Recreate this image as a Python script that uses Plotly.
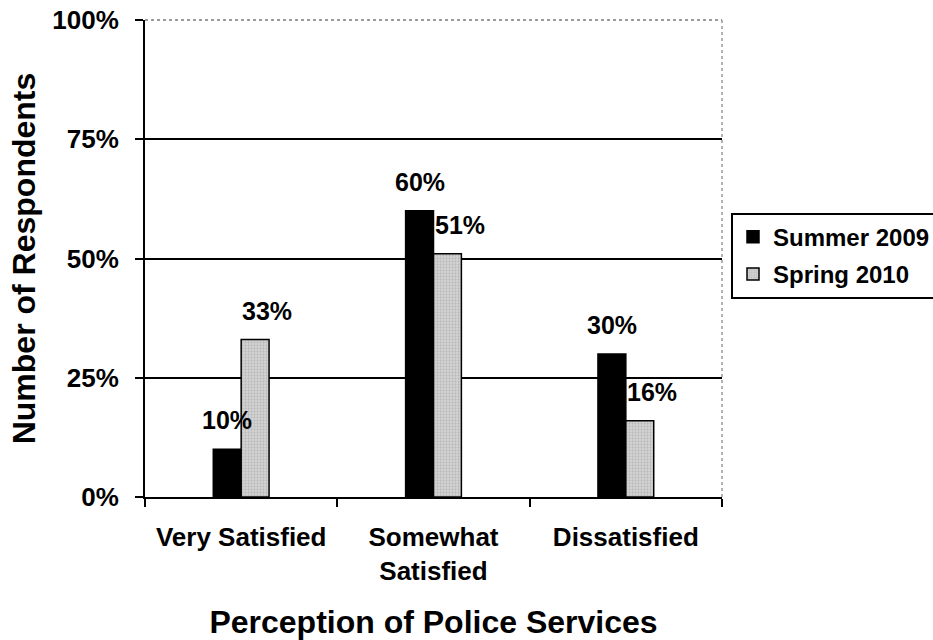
import plotly.graph_objects as go

categories = ["Very Satisfied", "Somewhat<br>Satisfied", "Dissatisfied"]
summer_2009 = [0.10, 0.60, 0.30]
spring_2010 = [0.33, 0.51, 0.16]
y_ticks = [0, 0.25, 0.5, 0.75, 1.0]
y_tick_labels = ["0%", "25%", "50%", "75%", "100%"]

FONT = "Liberation Sans, Arial, sans-serif"

fig = go.Figure()
fig.add_trace(go.Bar(
    name="Summer 2009", x=categories, y=summer_2009, legendgroup="a",
    marker=dict(color="#000000", line=dict(color="#000000", width=1.5)),
))
fig.add_trace(go.Bar(
    name="Spring 2010", x=categories, y=spring_2010, legendgroup="b",
    marker=dict(color="#c6c6c6", line=dict(color="#000000", width=1.5),
                pattern=dict(shape=".", fgcolor="#9a9a9a", bgcolor="#d2d2d2", size=3, solidity=0.3)),
))

annotations = []
for c, v in zip(categories, summer_2009):
    annotations.append(dict(x=c, y=v, xref="x", yref="y", text=f"{round(v*100)}%",
                            showarrow=False, yanchor="bottom", xshift=-14, yshift=13,
                            font=dict(family=FONT, size=25, color="#000", weight="bold")))
for c, v in zip(categories, spring_2010):
    annotations.append(dict(x=c, y=v, xref="x", yref="y", text=f"{round(v*100)}%",
                            showarrow=False, yanchor="bottom", xshift=26, yshift=13,
                            font=dict(family=FONT, size=25, color="#000", weight="bold")))

fig.update_layout(
    width=933, height=640,
    margin=dict(l=145, r=211, t=20, b=143, autoexpand=False),
    paper_bgcolor="white", plot_bgcolor="white",
    font=dict(family=FONT, color="#000", weight="bold"),
    barmode="group", bargap=0.71, bargroupgap=0,
    showlegend=True,
    legend=dict(x=1.0156, xanchor="left", y=0.506, yanchor="middle",
                bordercolor="#000", borderwidth=2, bgcolor="white",
                font=dict(family=FONT, size=24, color="#000", weight="bold"),
                itemwidth=30, tracegroupgap=3),
    annotations=annotations,
    xaxis=dict(
        type="category", tickson="boundaries", ticks="outside", ticklen=8,
        tickwidth=2, tickcolor="#000", showline=True, linecolor="#000", linewidth=2,
        showgrid=False, tickfont=dict(family=FONT, size=26, color="#000", weight="bold"),
        ticklabelstandoff=16, automargin=False,
        title=dict(text="Perception of Police Services", standoff=29,
                   font=dict(family=FONT, size=32, color="#000", weight="bold")),
    ),
    yaxis=dict(
        range=[0, 1], tickvals=y_ticks, ticktext=y_tick_labels, ticks="outside",
        ticklen=8, tickwidth=2, tickcolor="#000", showline=True, linecolor="#000",
        linewidth=2, showgrid=True, gridcolor="#000", gridwidth=1.5, zeroline=False,
        tickfont=dict(family=FONT, size=26, color="#000", weight="bold"),
        ticklabelstandoff=11, automargin=False,
        title=dict(text="Number of Respondents", standoff=7,
                   font=dict(family=FONT, size=32, color="#000", weight="bold")),
    ),
    shapes=[
        dict(type="line", xref="paper", yref="paper", x0=0, x1=1, y0=1, y1=1,
             line=dict(color="#9a9a9a", width=2, dash="dot"), layer="above"),
        dict(type="line", xref="paper", yref="paper", x0=1, x1=1, y0=0, y1=1,
             line=dict(color="#9a9a9a", width=1.5, dash="dot"), layer="above"),
    ],
)

fig.write_html("out.html", config={"displayModeBar": False},
               post_script="document.body.style.margin='0';")
